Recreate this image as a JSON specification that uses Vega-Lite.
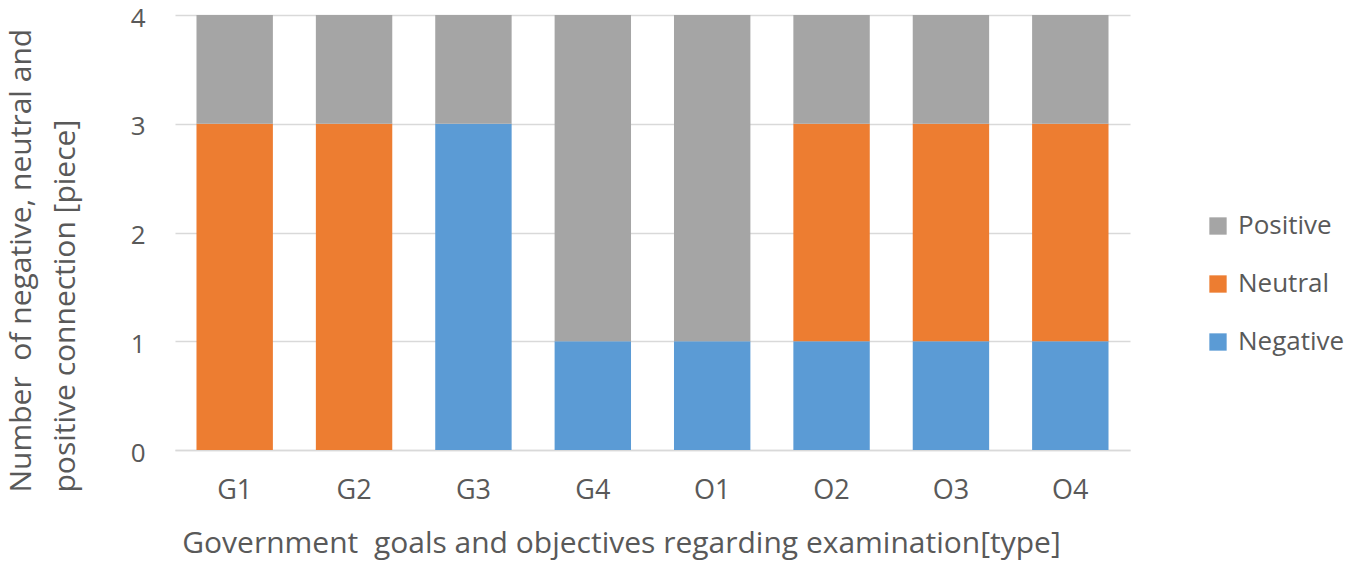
{
  "$schema": "https://vega.github.io/schema/vega-lite/v6.json",
  "autosize": "none",
  "width": 955,
  "height": 435,
  "padding": {"left": 175, "top": 15, "right": 220, "bottom": 111},
  "background": "white",
  "config": {"font": "Open Sans", "view": {"stroke": null}},
  "data": {
    "values": [
      {"goal": "G1", "type": "Negative", "rank": 1, "count": 0},
      {"goal": "G1", "type": "Neutral", "rank": 2, "count": 3},
      {"goal": "G1", "type": "Positive", "rank": 3, "count": 1},
      {"goal": "G2", "type": "Negative", "rank": 1, "count": 0},
      {"goal": "G2", "type": "Neutral", "rank": 2, "count": 3},
      {"goal": "G2", "type": "Positive", "rank": 3, "count": 1},
      {"goal": "G3", "type": "Negative", "rank": 1, "count": 3},
      {"goal": "G3", "type": "Neutral", "rank": 2, "count": 0},
      {"goal": "G3", "type": "Positive", "rank": 3, "count": 1},
      {"goal": "G4", "type": "Negative", "rank": 1, "count": 1},
      {"goal": "G4", "type": "Neutral", "rank": 2, "count": 0},
      {"goal": "G4", "type": "Positive", "rank": 3, "count": 3},
      {"goal": "O1", "type": "Negative", "rank": 1, "count": 1},
      {"goal": "O1", "type": "Neutral", "rank": 2, "count": 0},
      {"goal": "O1", "type": "Positive", "rank": 3, "count": 3},
      {"goal": "O2", "type": "Negative", "rank": 1, "count": 1},
      {"goal": "O2", "type": "Neutral", "rank": 2, "count": 2},
      {"goal": "O2", "type": "Positive", "rank": 3, "count": 1},
      {"goal": "O3", "type": "Negative", "rank": 1, "count": 1},
      {"goal": "O3", "type": "Neutral", "rank": 2, "count": 2},
      {"goal": "O3", "type": "Positive", "rank": 3, "count": 1},
      {"goal": "O4", "type": "Negative", "rank": 1, "count": 1},
      {"goal": "O4", "type": "Neutral", "rank": 2, "count": 2},
      {"goal": "O4", "type": "Positive", "rank": 3, "count": 1}
    ]
  },
  "mark": {"type": "bar"},
  "encoding": {
    "x": {
      "field": "goal",
      "type": "nominal",
      "sort": null,
      "scale": {"paddingInner": 0.36, "paddingOuter": 0.18},
      "axis": {
        "title": "Government\u00a0 goals and objectives regarding examination[type]",
        "labelAngle": 0,
        "labelFontSize": 27,
        "labelColor": "#595959",
        "labelPadding": 40,
        "labelBaseline": "middle",
        "ticks": false,
        "domain": true,
        "domainColor": "#D9D9D9",
        "domainWidth": 1.5,
        "titleFontSize": 30,
        "titleFontWeight": "normal",
        "titleColor": "#595959",
        "titleX": 446,
        "titleAlign": "center",
        "titleY": 93,
        "titleBaseline": "middle"
      }
    },
    "y": {
      "field": "count",
      "type": "quantitative",
      "stack": "zero",
      "scale": {"domain": [0, 4], "nice": false},
      "axis": {
        "values": [0, 1, 2, 3, 4],
        "title": ["Number\u00a0 of negative, neutral and", "positive connection [piece]"],
        "labelFontSize": 26,
        "labelColor": "#595959",
        "labelPadding": 30,
        "labelOffset": 3,
        "labelFlush": false,
        "ticks": false,
        "domain": false,
        "gridColor": "#D9D9D9",
        "gridWidth": 1.5,
        "titleFontSize": 30,
        "titleFontWeight": "normal",
        "titleColor": "#595959",
        "titleLineHeight": 44,
        "titleAngle": -90,
        "titleAlign": "left",
        "titleX": -145,
        "titleY": 477,
        "titleBaseline": "alphabetic"
      }
    },
    "color": {
      "field": "type",
      "type": "nominal",
      "scale": {
        "domain": ["Positive", "Neutral", "Negative"],
        "range": ["#A5A5A5", "#ED7D31", "#5B9BD5"]
      },
      "legend": {
        "title": null,
        "orient": "none",
        "legendX": 1030,
        "legendY": 198,
        "symbolType": "square",
        "symbolSize": 300,
        "symbolStrokeWidth": 0,
        "labelFontSize": 26,
        "labelColor": "#595959",
        "labelOffset": 7,
        "rowPadding": 32
      }
    },
    "order": {"field": "rank", "type": "quantitative", "sort": "ascending"}
  }
}
